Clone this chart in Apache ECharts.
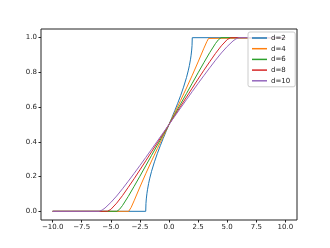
<!DOCTYPE html>
<html>
<head>
<meta charset="utf-8">
<script src="https://cdn.jsdelivr.net/npm/echarts@6/dist/echarts.min.js"></script>
<style>
html,body{margin:0;padding:0;background:#fff;}
#chart{width:330px;height:248px;}
</style>
</head>
<body>
<div id="chart"></div>
<script>
// Tick labels
const xTicks = [-10, -7.5, -5, -2.5, 0, 2.5, 5, 7.5, 10];
const yTicks = [0, 0.2, 0.4, 0.6, 0.8, 1.0];
const seriesNames = ['d=2', 'd=4', 'd=6', 'd=8', 'd=10'];

// d=2
const d2X = [-10, -2, -1.98, -1.95, -1.9, -1.85, -1.75, -1.65, -1.5, -1.25, -1, -0.75, -0.5, -0.25, 0, 0.25, 0.5, 0.75, 1, 1.25, 1.5, 1.65, 1.75, 1.85, 1.9, 1.95, 1.98, 2, 10];
const d2Y = [0, 0, 0.0451, 0.0713, 0.1011, 0.1240, 0.1609, 0.1912, 0.2301, 0.2851, 0.3333, 0.3776, 0.4196, 0.4601, 0.5, 0.5399, 0.5804, 0.6224, 0.6667, 0.7149, 0.7699, 0.8088, 0.8391, 0.8760, 0.8989, 0.9287, 0.9549, 1, 1];
// d=4
const d4X = [-10, -3.464, -3.4, -3.25, -3, -2.5, -2, -1.5, -1, -0.5, 0, 0.5, 1, 1.5, 2, 2.5, 3, 3.25, 3.4, 3.464, 10];
const d4Y = [0, 0, 0.0043, 0.0228, 0.0605, 0.1398, 0.2163, 0.2899, 0.3612, 0.4310, 0.5, 0.5690, 0.6388, 0.7101, 0.7837, 0.8602, 0.9395, 0.9772, 0.9957, 1, 1];
// d=6
const d6X = [-10, -4.472, -4.25, -4, -3.5, -3, -2.5, -2, -1.5, -1, -0.5, 0, 0.5, 1, 1.5, 2, 2.5, 3, 3.5, 4, 4.25, 4.472, 10];
const d6Y = [0, 0, 0.0116, 0.0331, 0.0858, 0.1433, 0.2023, 0.2621, 0.3217, 0.3813, 0.4407, 0.5, 0.5593, 0.6187, 0.6783, 0.7379, 0.7977, 0.8567, 0.9142, 0.9669, 0.9884, 1, 1];
// d=8
const d8X = [-10, -5.292, -5, -4.5, -4, -3.5, -3, -2.5, -2, -1.5, -1, -0.5, 0, 0.5, 1, 1.5, 2, 2.5, 3, 3.5, 4, 4.5, 5, 5.292, 10];
const d8Y = [0, 0, 0.0111, 0.0468, 0.0903, 0.1384, 0.1873, 0.2385, 0.2903, 0.3424, 0.3948, 0.4474, 0.5, 0.5526, 0.6052, 0.6576, 0.7097, 0.7616, 0.8127, 0.8616, 0.9097, 0.9532, 0.9889, 1, 1];
// d=10
const d10X = [-10, -6, -5.75, -5.5, -5, -4.5, -4, -3.5, -3, -2.5, -2, -1.5, -1, -0.5, 0, 0.5, 1, 1.5, 2, 2.5, 3, 3.5, 4, 4.5, 5, 5.5, 5.75, 6, 10];
const d10Y = [0, 0, 0.0071, 0.0190, 0.0509, 0.0880, 0.1297, 0.1734, 0.2180, 0.2637, 0.3101, 0.3572, 0.4046, 0.4523, 0.5, 0.5477, 0.5954, 0.6428, 0.6899, 0.7363, 0.7820, 0.8266, 0.8703, 0.9120, 0.9491, 0.9810, 0.9929, 1, 1];

const colors = ['#1f77b4', '#ff7f0e', '#2ca02c', '#d62728', '#9467bd'];
const allX = [d2X, d4X, d6X, d8X, d10X];
const allY = [d2Y, d4Y, d6Y, d8Y, d10Y];

const fmt = v => (v < 0 ? '\u2212' : '') + Math.abs(v).toFixed(1);
const font = 'DejaVu Sans';

const chart = echarts.init(document.getElementById('chart'), null, {renderer: 'canvas'});
chart.setOption({
  animation: false,
  backgroundColor: '#fff',
  color: colors,
  grid: {left: 41, right: 33, top: 29, bottom: 28, show: true, borderColor: '#222', borderWidth: 1, backgroundColor: 'transparent'},
  xAxis: {
    type: 'value', min: -11, max: 11,
    axisLine: {show: false, onZero: false},
    splitLine: {show: false},
    axisTick: {show: true, inside: false, length: 2.5, lineStyle: {color: '#222'}, customValues: xTicks},
    axisLabel: {customValues: xTicks, formatter: fmt, fontSize: 7, color: '#222', fontFamily: font, margin: 4}
  },
  yAxis: {
    type: 'value', min: -0.05, max: 1.05,
    axisLine: {show: false, onZero: false},
    splitLine: {show: false},
    axisTick: {show: true, inside: false, length: 2.5, lineStyle: {color: '#222'}, customValues: yTicks},
    axisLabel: {customValues: yTicks, formatter: v => v.toFixed(1), fontSize: 7, color: '#222', fontFamily: font, margin: 4}
  },
  legend: {
    orient: 'vertical',
    left: 248, top: 32,
    itemWidth: 15, itemHeight: 1.5,
    itemGap: 2.7,
    icon: 'rect',
    padding: [2, 5, 2, 4],
    backgroundColor: 'rgba(255,255,255,0.8)',
    borderColor: '#ccc', borderWidth: 1, borderRadius: 2,
    textStyle: {fontSize: 7, color: '#222', fontFamily: font, lineHeight: 8, padding: [0, 0, 0, -1]},
    data: seriesNames
  },
  series: seriesNames.map((n, k) => ({
    name: n, type: 'line', showSymbol: false, symbol: 'none', smooth: false,
    lineStyle: {width: 1, color: colors[k]},
    itemStyle: {color: colors[k]},
    data: allX[k].map((x, i) => [x, allY[k][i]])
  }))
});
</script>
</body>
</html>
